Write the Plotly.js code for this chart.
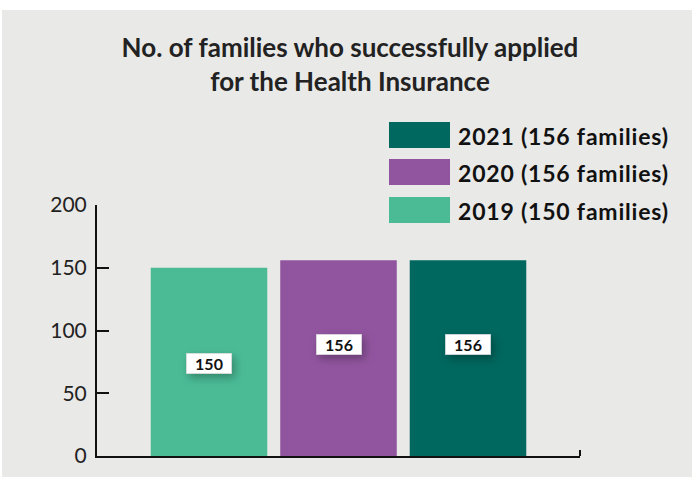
<!DOCTYPE html>
<html>
<head>
<meta charset="utf-8">
<script src="https://cdn.plot.ly/plotly-3.0.1.min.js"></script>
<style>
  html, body { margin: 0; padding: 0; background: #ffffff; }
  #chart { position: absolute; left: 2px; top: 10px; width: 690px; height: 467px; }
  .annotation rect.bg { filter: drop-shadow(3px 4px 4px rgba(0,0,0,0.28)); }
</style>
</head>
<body>
<div id="chart"></div>
<script>
// ---- data ----
const categories = ['2019', '2020', '2021'];
const values = [150, 156, 156];
const legendLabels = ['2019 (150 families)', '2020 (156 families)', '2021 (156 families)'];
const colors = ['#4BBB96', '#91559F', '#00685F'];
const yTickVals = [0, 50, 100, 150, 200];
const titleText = 'No. of families who successfully applied<br>for the Health Insurance';

// ---- geometry helpers (pixel -> paper) ----
const W = 690, H = 467;
const M = { l: 95, r: 112, t: 195, b: 21 };
const plotW = W - M.l - M.r, plotH = H - M.t - M.b;
const px = x => (x - M.l) / plotW;          // div x -> paper x
const py = y => (H - M.b - y) / plotH;      // div y -> paper y

const traces = categories.map((c, i) => ({
  type: 'bar',
  x: [c],
  y: [values[i]],
  name: legendLabels[i],
  marker: { color: colors[i], line: { width: 0 } },
  width: 0.9,
  hoverinfo: 'x+y',
  showlegend: false
}));

// value label y positions (data units) -- layout only
const labelY = [74, 89, 89];

const annotations = [];
categories.forEach((c, i) => {
  annotations.push({
    x: i, y: labelY[i], xref: 'x', yref: 'y',
    text: '<b>' + String(values[i]) + '</b>',
    showarrow: false,
    font: { family: 'Lato, sans-serif', size: 16, color: '#111' },
    bgcolor: '#ffffff', bordercolor: '#d0d0d0', borderwidth: 0.5,
    width: 43, height: 18, borderpad: 1
  });
});

// manual legend (reversed order: 2021 top)
const shapes = [];
const rowCenters = [200, 162, 125]; // div y for 2019, 2020, 2021
categories.forEach((c, i) => {
  shapes.push({
    type: 'rect', xref: 'paper', yref: 'paper',
    x0: px(387), x1: px(448),
    y0: py(rowCenters[i] + 13), y1: py(rowCenters[i] - 13),
    fillcolor: colors[i], line: { width: 0 }, layer: 'above'
  });
  annotations.push({
    xref: 'paper', yref: 'paper', x: px(454), y: py(rowCenters[i] + 1),
    xanchor: 'left', yanchor: 'middle', showarrow: false,
    text: '<span style="letter-spacing:0.8px"><b>' + legendLabels[i] + '</b></span>',
    font: { family: 'Lato, sans-serif', size: 23, color: '#111' }
  });
});

// right-end tick on the x axis
shapes.push({
  type: 'line', xref: 'paper', yref: 'paper',
  x0: 1, x1: 1, y0: 0, y1: py(H - M.b - 6),
  line: { color: '#111', width: 2 }
});

const layout = {
  width: W, height: H,
  margin: M,
  paper_bgcolor: '#E9E9E7',
  plot_bgcolor: 'rgba(0,0,0,0)',
  barmode: 'overlay',
  title: {
    text: '<b>' + titleText + '</b>',
    x: 348 / W, xanchor: 'center', xref: 'container',
    y: 1 - 47 / H, yanchor: 'top', yref: 'container',
    font: { family: 'Lato, sans-serif', size: 26, color: '#222' }
  },
  xaxis: {
    type: 'category',
    range: [-0.865, 2.865],
    showticklabels: false, ticks: '',
    showline: true, linecolor: '#111', linewidth: 2,
    showgrid: false, zeroline: false, fixedrange: true
  },
  yaxis: {
    range: [0, 200],
    tickvals: yTickVals,
    ticks: 'inside', ticklen: 12, tickwidth: 2, tickcolor: '#111',
    showline: true, linecolor: '#111', linewidth: 2,
    showgrid: false, zeroline: false,
    tickfont: { family: 'Lato, sans-serif', size: 21, color: '#222' },
    ticklabelstandoff: 4,
    fixedrange: true
  },
  annotations: annotations,
  shapes: shapes,
  showlegend: false
};

Plotly.newPlot('chart', traces, layout, { displayModeBar: false, staticPlot: true });
</script>
</body>
</html>
